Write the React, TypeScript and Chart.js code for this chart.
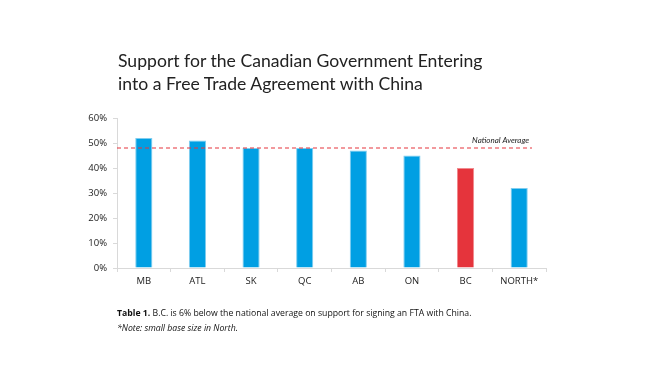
import React, { useEffect, useRef } from "react";
import { Chart, registerables } from "chart.js";

Chart.register(...registerables);

const categories = ["MB", "ATL", "SK", "QC", "AB", "ON", "BC", "NORTH*"];
const support = [52, 51, 48, 48, 47, 45, 40, 32];
const highlighted = ["BC"];
const nationalAverage = 48;
const yTicks = [0, 10, 20, 30, 40, 50, 60];
const titleLines = [
  "Support for the Canadian Government Entering",
  "into a Free Trade Agreement with China",
];
const captionBold = "Table 1.";
const captionText = " B.C. is 6% below the national average on support for signing an FTA with China.";
const noteText = "*Note: small base size in North.";
const avgLabel = "National Average";

const BLUE = "#009fe3";
const BLUE_EDGE = "#7fcdef";
const RED = "#e5343c";
const RED_EDGE = "#f08a8f";

export default function App() {
  const ref = useRef<HTMLCanvasElement | null>(null);

  useEffect(() => {
    if (!ref.current) return;
    const avgPlugin = {
      id: "avgLine",
      afterDatasetsDraw(chart: any) {
        const { ctx, chartArea, scales } = chart;
        const y = scales.y.getPixelForValue(nationalAverage);
        ctx.save();
        ctx.strokeStyle = "#e5343c";
        ctx.lineWidth = 1.2;
        ctx.setLineDash([4, 3]);
        ctx.beginPath();
        ctx.moveTo(chartArea.left, y);
        ctx.lineTo(chartArea.right - 14, y);
        ctx.stroke();
        ctx.setLineDash([]);
        ctx.fillStyle = "#222";
        ctx.font = "italic 8px Lato";
        ctx.textAlign = "right";
        ctx.textBaseline = "alphabetic";
        ctx.fillText(avgLabel, chartArea.right - 17, y - 5);
        ctx.restore();
      },
    };
    const chart = new Chart(ref.current, {
      type: "bar",
      data: {
        labels: categories,
        datasets: [
          {
            data: support,
            backgroundColor: categories.map((c) => (highlighted.includes(c) ? RED : BLUE)),
            borderColor: categories.map((c) => (highlighted.includes(c) ? RED_EDGE : BLUE_EDGE)),
            borderWidth: 1,
            categoryPercentage: 1,
            barPercentage: 0.32,
          },
        ],
      },
      options: {
        animation: false,
        responsive: false,
        maintainAspectRatio: false,
        layout: { padding: { left: 0, top: 118, right: 114, bottom: 76 } },
        plugins: { legend: { display: false }, tooltip: { enabled: false }, title: { display: false } },
        scales: {
          x: {
            grid: {
              offset: true,
              drawOnChartArea: false,
              drawTicks: true,
              tickLength: 4,
              color: "#d9d9d9",
            },
            border: { color: "#d9d9d9", width: 1 },
            ticks: { color: "#222", font: { family: "'Open Sans'", size: 9.5 }, padding: 4 },
            afterFit: (s: any) => {
              s.height = 30;
            },
          },
          y: {
            min: 0,
            max: 60,
            afterBuildTicks: (s: any) => {
              s.ticks = yTicks.map((v) => ({ value: v }));
            },
            grid: { drawOnChartArea: false, drawTicks: true, tickLength: 4, color: "#d9d9d9" },
            border: { color: "#d9d9d9", width: 1 },
            ticks: {
              color: "#222",
              font: { family: "'Open Sans'", size: 9.5 },
              padding: 6,
              callback: (v: any) => v + "%",
            },
            afterFit: (s: any) => {
              s.width = 117;
            },
          },
        },
      },
      plugins: [avgPlugin],
    });
    return () => chart.destroy();
  }, []);

  return (
    <div style={{ position: "absolute", left: 0, top: 0, width: 660, height: 374, background: "#fff" }}>
      <canvas ref={ref} width={660} height={374} style={{ position: "absolute", left: 0, top: 0 }} />
      <div
        style={{
          position: "absolute",
          left: 118,
          top: 49,
          fontFamily: "Lato",
          fontSize: 17.6,
          lineHeight: "23px",
          color: "#222",
          whiteSpace: "nowrap",
        }}
      >
        {titleLines.map((t, i) => (
          <div key={i}>{t}</div>
        ))}
      </div>
      <div
        style={{
          position: "absolute",
          left: 117,
          top: 306,
          fontFamily: "'Open Sans'",
          fontSize: 8.7,
          lineHeight: "15px",
          color: "#111",
          whiteSpace: "nowrap",
        }}
      >
        <div>
          <b>{captionBold}</b>
          {captionText}
        </div>
        <div style={{ fontStyle: "italic" }}>{noteText}</div>
      </div>
    </div>
  );
}
